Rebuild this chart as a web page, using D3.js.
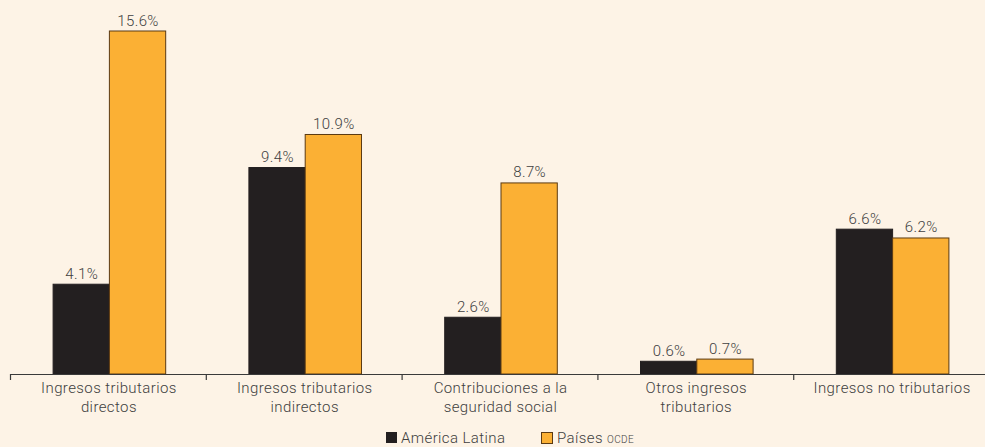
<!DOCTYPE html>
<html>
<head>
<meta charset="utf-8">
<script src="https://cdn.jsdelivr.net/npm/d3@7"></script>
<style>
  html, body { margin: 0; padding: 0; background: #fdf3e6; }
  svg { display: block; font-family: Roboto, "Noto Sans", sans-serif; font-weight: 300; }
</style>
</head>
<body>
<div id="chart"></div>
<script>
// categories and series
const categories = [
  ['Ingresos tributarios', 'directos'],
  ['Ingresos tributarios', 'indirectos'],
  ['Contribuciones a la', 'seguridad social'],
  ['Otros ingresos', 'tributarios'],
  ['Ingresos no tributarios']
];
const americaLatina = [4.1, 9.4, 2.6, 0.6, 6.6];
const paisesOcde = [15.6, 10.9, 8.7, 0.7, 6.2];
const seriesNames = ['América Latina', 'Países'];

const width = 985, height = 447;
const baseY = 374;
const textColor = '#404040';

const svg = d3.select('#chart').append('svg')
  .attr('width', width)
  .attr('height', height);

svg.append('rect').attr('width', width).attr('height', height).attr('fill', '#fdf3e6');

const x = d3.scaleBand()
  .domain(d3.range(categories.length))
  .range([10.5, 990.5])
  .paddingInner(0.425)
  .paddingOuter(0.215);

const xSub = d3.scaleBand()
  .domain([0, 1])
  .range([0, x.bandwidth()]);

const y = d3.scaleLinear()
  .domain([0, 15.6])
  .range([baseY, 30.5]);

const colors = ['#231f20', '#fbb034'];
const strokes = ['#231f20', '#5b3a12'];

const rows = categories.map((c, i) => ({ i, vals: [americaLatina[i], paisesOcde[i]] }));

const groups = svg.selectAll('g.grp')
  .data(rows)
  .enter().append('g')
  .attr('class', 'grp')
  .attr('transform', d => `translate(${x(d.i)},0)`);

groups.selectAll('rect')
  .data(d => d.vals.map((v, k) => ({ v, k })))
  .enter().append('rect')
  .attr('x', d => xSub(d.k) + 0.5)
  .attr('y', d => y(d.v) + 0.5)
  .attr('width', xSub.bandwidth())
  .attr('height', d => baseY - y(d.v) - 0.5)
  .attr('fill', d => colors[d.k])
  .attr('stroke', d => strokes[d.k])
  .attr('stroke-width', 1);

groups.selectAll('text.val')
  .data(d => d.vals.map((v, k) => ({ v, k })))
  .enter().append('text')
  .attr('class', 'val')
  .attr('x', d => xSub(d.k) + xSub.bandwidth() / 2 + 1)
  .attr('y', d => y(d.v) - 5)
  .attr('text-anchor', 'middle')
  .style('font-size', '15px')
  .style('letter-spacing', '0.4px')
  .style('fill', textColor)
  .text(d => d.v.toFixed(1) + '%');

// axis line and band boundary ticks
svg.append('line')
  .attr('x1', 10).attr('x2', width)
  .attr('y1', baseY + 0.5).attr('y2', baseY + 0.5)
  .attr('stroke', '#3a3a3a').attr('stroke-width', 1.2);

const step = x.step();
svg.selectAll('line.tick')
  .data(d3.range(categories.length))
  .enter().append('line')
  .attr('class', 'tick')
  .attr('x1', i => x(i) - step * 0.215)
  .attr('x2', i => x(i) - step * 0.215)
  .attr('y1', baseY)
  .attr('y2', baseY + 6)
  .attr('stroke', '#3a3a3a').attr('stroke-width', 1.2);

groups.each(function (d) {
  const t = d3.select(this).append('text')
    .attr('x', x.bandwidth() / 2)
    .attr('y', baseY + 19)
    .attr('text-anchor', 'middle')
    .style('font-size', '15px')
    .style('letter-spacing', '0.4px')
    .style('fill', textColor);
  categories[d.i].forEach((line, j) => {
    t.append('tspan')
      .attr('x', x.bandwidth() / 2)
      .attr('dy', j === 0 ? 0 : 19)
      .text(line);
  });
});

// legend
const legend = svg.append('g').attr('transform', 'translate(386,431)');
legend.append('rect').attr('y', 1).attr('width', 11).attr('height', 11).attr('fill', colors[0]);
legend.append('text').attr('x', 15).attr('y', 12)
  .style('font-size', '15px').style('letter-spacing', '0.4px').style('fill', textColor)
  .text(seriesNames[0]);
legend.append('rect').attr('x', 155.5).attr('y', 1.5).attr('width', 11).attr('height', 11)
  .attr('fill', colors[1]).attr('stroke', strokes[1]);
const lt = legend.append('text').attr('x', 171).attr('y', 12)
  .style('font-size', '15px').style('letter-spacing', '0.4px').style('fill', textColor);
lt.append('tspan').text(seriesNames[1] + ' ');
lt.append('tspan').style('font-size', '10px').text('OCDE');
</script>
</body>
</html>
